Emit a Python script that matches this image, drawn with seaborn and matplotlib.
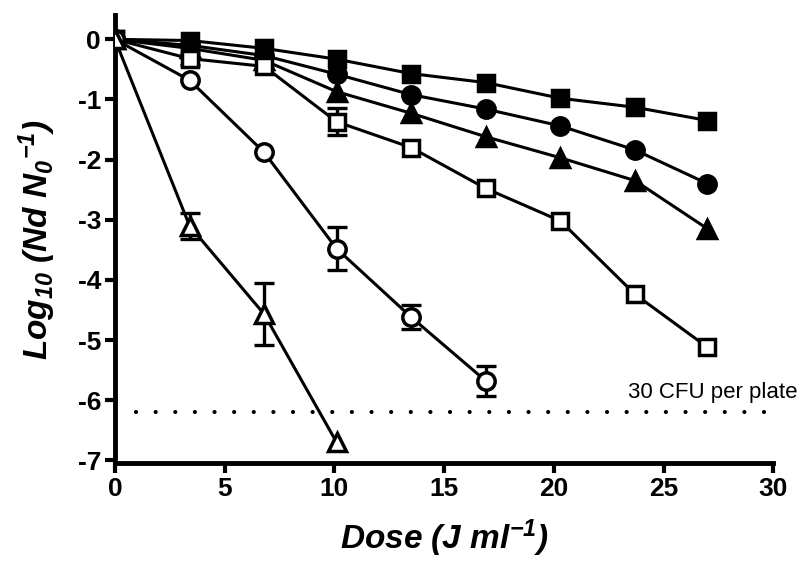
import numpy as np
import pandas as pd
import matplotlib
matplotlib.use("Agg")
import matplotlib.pyplot as plt
import seaborn as sns

# doses (J/ml)
dose = [0, 3.4, 6.8, 10.1, 13.5, 16.9, 20.3, 23.7, 27.0]

# log10 survival for each series
sq_filled = [0, -0.02, -0.15, -0.33, -0.57, -0.72, -0.98, -1.13, -1.35]
circ_filled = [0, -0.10, -0.27, -0.58, -0.92, -1.16, -1.44, -1.84, -2.40]
tri_filled = [0, -0.15, -0.35, -0.87, -1.23, -1.62, -1.97, -2.35, -3.15]
sq_open = [0, -0.32, -0.45, -1.37, -1.80, -2.48, -3.02, -4.24, -5.12]
sq_open_err = [np.nan, 0.10, np.nan, 0.22, np.nan, np.nan, np.nan, np.nan, np.nan]
circ_open = [0, -0.68, -1.88, -3.48, -4.62, -5.68]
circ_open_err = [np.nan, np.nan, np.nan, 0.36, 0.20, 0.25]
tri_open = [0, -3.10, -4.57, -6.70]
tri_open_err = [np.nan, 0.22, 0.52, np.nan]

limit_level = -6.2
limit_label = "30 CFU per plate"

sns.set_style("ticks")
plt.rcParams['font.family'] = ['Liberation Sans', 'DejaVu Sans']
plt.rcParams['text.color'] = 'black'
plt.rcParams['axes.labelcolor'] = 'black'
plt.rcParams['xtick.color'] = 'black'
plt.rcParams['ytick.color'] = 'black'
plt.rcParams['axes.edgecolor'] = 'black'
plt.rcParams['mathtext.fontset'] = 'custom'
plt.rcParams['mathtext.it'] = 'Liberation Sans:italic:bold'
plt.rcParams['mathtext.rm'] = 'Liberation Sans:italic:bold'
plt.rcParams['mathtext.bf'] = 'Liberation Sans:italic:bold'

fig = plt.figure(figsize=(7.98, 5.65), dpi=100)
ax = fig.add_axes([0.144, 0.18, 0.825, 0.793])

series = [
    (sq_filled, None, 's', 'black', 12),
    (circ_filled, None, 'o', 'black', 12.5),
    (tri_filled, None, '^', 'black', 12.5),
    (sq_open, sq_open_err, 's', 'white', 12),
    (circ_open, circ_open_err, 'o', 'white', 12.5),
    (tri_open, tri_open_err, '^', 'white', 13),
]

for vals, err, mk, face, ms in series:
    x = dose[:len(vals)]
    if err is not None:
        ax.errorbar(x, vals, yerr=err, fmt='none', ecolor='black',
                    elinewidth=2.4, capsize=7.5, capthick=2.4, zorder=2)
    sns.lineplot(x=x, y=vals, ax=ax, color='black', linewidth=2.2,
                 marker=mk, markersize=ms, markerfacecolor=face,
                 markeredgecolor='black', markeredgewidth=2.5, zorder=3)

# detection limit line
ax.plot([0.96, 29.7], [limit_level, limit_level], color='black',
        linestyle=(0, (0.01, 4.7)), linewidth=3, dash_capstyle='round',
        clip_on=False, zorder=1)
ax.text(31.1, limit_level + 0.16, limit_label, ha='right', va='bottom',
        fontsize=16, clip_on=False)

ax.set_xlim(0, 30)
ax.set_ylim(-7.05, 0.4)
ax.set_xticks(range(0, 31, 5))
ax.set_yticks(range(-7, 1))
ax.set_xticklabels([str(v) for v in range(0, 31, 5)], fontsize=19, fontweight='bold')
ax.set_yticklabels([str(v) for v in range(-7, 1)], fontsize=19, fontweight='bold')
ax.tick_params(width=3, length=7, direction='out', pad=3)
for side in ['left', 'bottom']:
    ax.spines[side].set_linewidth(3.5)
sns.despine(ax=ax)

ax.set_xlabel("Dose (J ml$^{-1}$)", fontsize=24, fontweight='bold', style='italic', labelpad=12)
ax.set_ylabel("Log$_{10}$ (Nd N$_0$$^{-1}$)", fontsize=24, fontweight='bold', style='italic', labelpad=14)

fig.savefig("out.png", dpi=100)
